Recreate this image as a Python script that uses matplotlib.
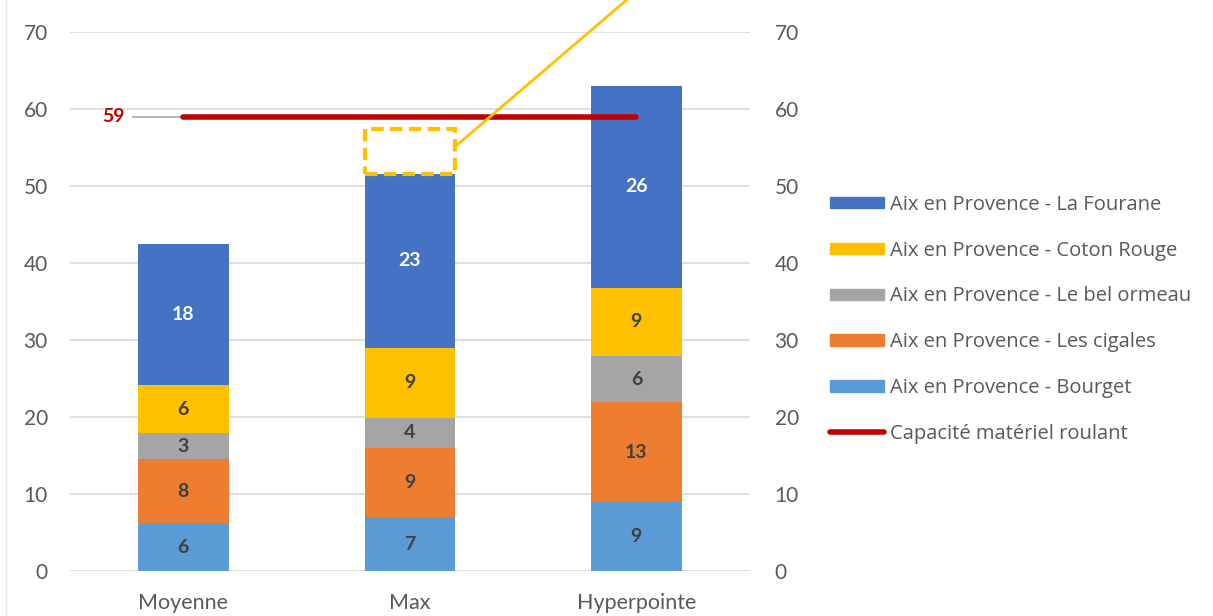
import matplotlib.pyplot as plt
from matplotlib.patches import Patch, Rectangle
from matplotlib.lines import Line2D

categories = ['Moyenne', 'Max', 'Hyperpointe']
series_names = ['Aix en Provence - Bourget', 'Aix en Provence - Les cigales',
                'Aix en Provence - Le bel ormeau', 'Aix en Provence - Coton Rouge',
                'Aix en Provence - La Fourane']
bourget = [6.2, 7.0, 9.0]
cigales = [8.3, 9.0, 12.9]
bel_ormeau = [3.4, 3.9, 6.0]
coton_rouge = [6.2, 9.1, 8.9]
fourane = [18.4, 22.6, 26.2]
capacity = 59
box_top = 57.4
colors = ['#5B9BD5', '#ED7D31', '#A5A5A5', '#FFC000', '#4472C4']
label_colors = ['#404040', '#404040', '#404040', '#404040', 'white']

fig = plt.figure(figsize=(12.13, 6.16), dpi=100)
ax = fig.add_axes([0.0577, 0.0731, 0.5603, 0.8750])

x = list(range(len(categories)))
width = 0.4
bottom = [0, 0, 0]
for vals, name, col, lcol in zip([bourget, cigales, bel_ormeau, coton_rouge, fourane],
                                  series_names, colors, label_colors):
    ax.bar(x, vals, width, bottom=bottom, color=col, label=name, zorder=3)
    for xi, v, b in zip(x, vals, bottom):
        ax.text(xi, b + v / 2, f'{v:.0f}', ha='center', va='center', color=lcol,
                fontsize=14, fontweight='bold', family='Lato', zorder=4)
    bottom = [b + v for b, v in zip(bottom, vals)]

# capacity line
ax.plot([x[0], x[-1]], [capacity, capacity], color='#C00000', lw=4,
        solid_capstyle='round', zorder=5)
ax.plot([x[0] - 0.22, x[0]], [capacity, capacity], color='#A5A5A5', lw=1.2, zorder=4)
ax.text(x[0] - 0.26, capacity, str(capacity), ha='right', va='center', color='#C00000',
        fontsize=14, fontweight='bold', family='Lato')

# dashed callout box above Max bar
ax.add_patch(Rectangle((x[1] - width / 2, bottom[1]), width, box_top - bottom[1],
                       fill=False, edgecolor='#FFC000', lw=3, linestyle=(0, (3, 1.5)),
                       zorder=6))
ax.plot([x[1] + width / 2, x[1] + 1.05], [55.1, 76.5], color='#FFC000', lw=2,
        clip_on=False, zorder=6)

ax.set_xlim(-0.5, 2.5)
ax.set_ylim(0, 70)
ax.set_yticks(range(0, 71, 10))
ax.grid(axis='y', color='#D9D9D9', lw=1.2, zorder=0)
for s in ax.spines.values():
    s.set_visible(False)
ax.tick_params(axis='both', length=0, labelsize=15, labelcolor='#595959')
ax.tick_params(axis='y', pad=16)
ax.tick_params(axis='x', pad=16)
ax.set_xticks(x)
ax.set_xticklabels(categories, family='Lato', fontsize=15.5)
for t in ax.get_yticklabels():
    t.set_family('Lato')

ax2 = ax.twinx()
ax2.set_ylim(0, 70)
ax2.set_yticks(range(0, 71, 10))
for s in ax2.spines.values():
    s.set_visible(False)
ax2.tick_params(axis='y', length=0, labelsize=15, labelcolor='#595959', pad=18)
for t in ax2.get_yticklabels():
    t.set_family('Lato')

handles = [Patch(color=c) for c in colors[::-1]]
labels = series_names[::-1]
handles.append(Line2D([0], [0], color='#C00000', lw=4, solid_capstyle='round'))
labels.append('Capacité matériel roulant')
fig.legend(handles, labels, loc='upper left', bbox_to_anchor=(0.676, 0.70),
           frameon=False, handlelength=2.7, handleheight=0.5, handletextpad=0.3,
           labelspacing=1.28, borderpad=0, prop={'family': 'Open Sans', 'size': 14.5},
           labelcolor='#595959')

fig.add_artist(Line2D([0.005, 0.005], [0, 1], color='#E6E6E6', lw=1))

fig.savefig('out.png', dpi=100)
